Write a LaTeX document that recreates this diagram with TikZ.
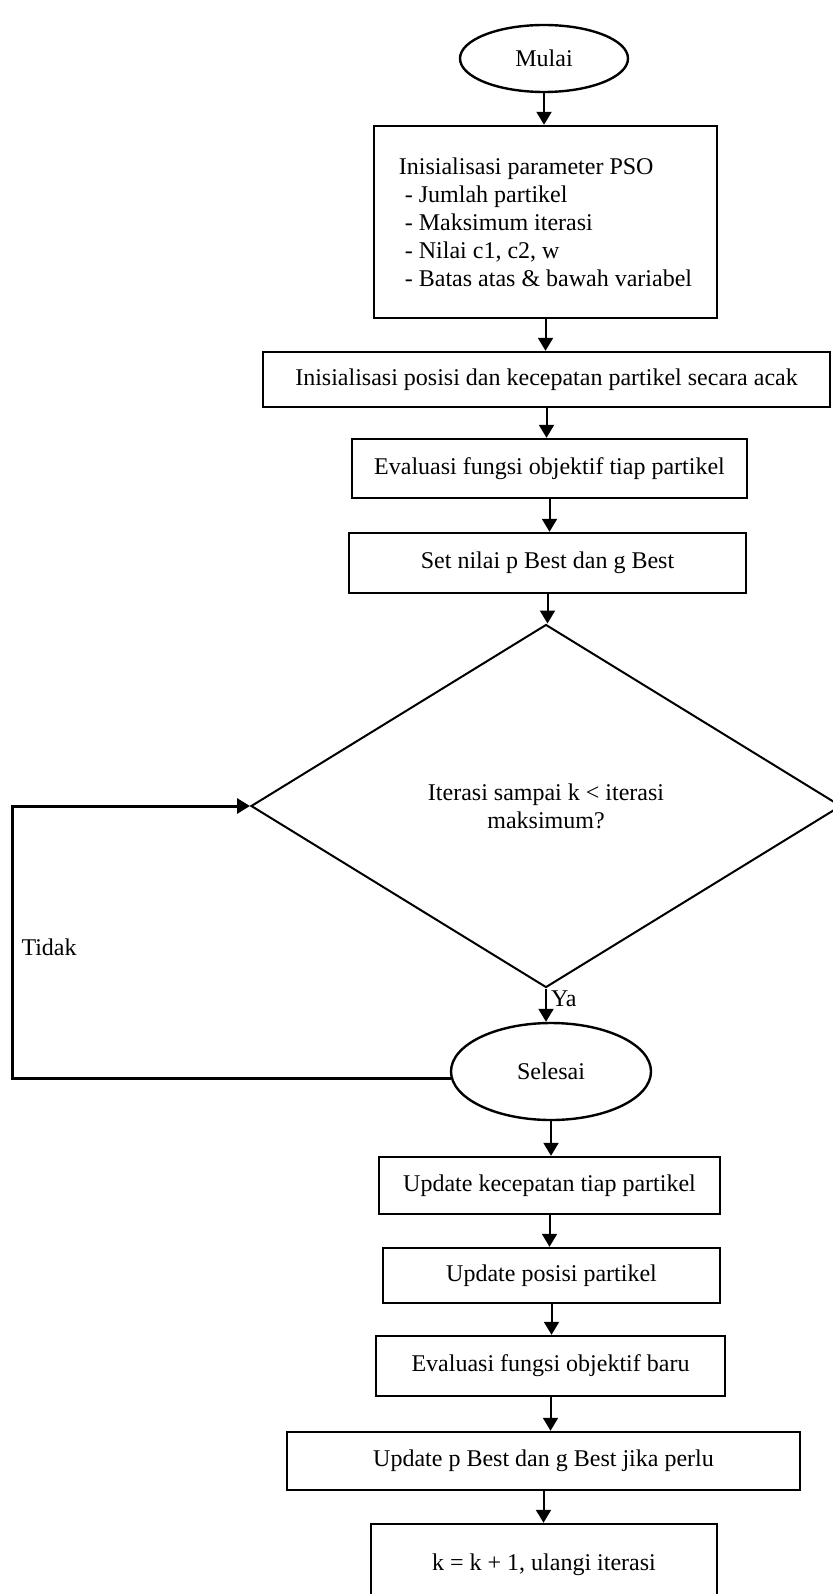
\documentclass[tikz,border=0pt]{standalone}
\usepackage{fontspec}
\setmainfont{Liberation Serif}
\usetikzlibrary{arrows.meta,shapes.geometric,positioning}

\begin{document}
\begin{tikzpicture}[x=0.5pt, y=-0.5pt, >={Triangle[length=6.5pt,width=7.5pt]},
    font=\fontsize{12}{14}\selectfont,
    kotak/.style={draw, rectangle, line width=1.2pt, inner sep=0pt, align=center},
    terminal/.style={draw, ellipse, line width=1.2pt, inner sep=0pt},
    keputusan/.style={draw, diamond, line width=1pt, inner sep=0pt, align=center},
    alur/.style={->, line width=1pt},
    balik/.style={->, line width=1.5pt}]
\useasboundingbox (0,0) rectangle (833,1594);

                \node[terminal, minimum width=84pt, minimum height=33.5pt] (mulai) at (544,58.5) {Mulai};
                \node[kotak, minimum width=171.5pt, minimum height=96pt, align=left] (param) at (545.5,222)
                      {Inisialisasi parameter PSO\\~- Jumlah partikel\\~- Maksimum iterasi\\~- Nilai c1, c2, w\\~- Batas atas \& bawah variabel};
                \node[kotak, minimum width=283.5pt, minimum height=27.5pt] (acak) at (546.5,379.5)
                      {Inisialisasi posisi dan kecepatan partikel secara acak};
                \node[kotak, minimum width=197.5pt, minimum height=29.5pt] (eval) at (549.5,468.5)
                      {Evaluasi fungsi objektif tiap partikel};
                \node[kotak, minimum width=198.5pt, minimum height=30pt] (setbest) at (547.5,563)
                      {Set nilai p Best dan g Best};
                \node[keputusan, minimum width=295pt, minimum height=181.5pt] (cek) at (546,806)
                      {Iterasi sampai k < iterasi\\maksimum?};
                \node[terminal, minimum width=100pt, minimum height=48.5pt] (selesai) at (551,1071.5) {Selesai};
                \node[kotak, minimum width=170.5pt, minimum height=28.5pt] (updv) at (549.5,1185.5)
                      {Update kecepatan tiap partikel};
                \node[kotak, minimum width=168.5pt, minimum height=27.5pt] (updx) at (551.5,1275.5)
                      {Update posisi partikel};
                \node[kotak, minimum width=174.5pt, minimum height=30pt] (evalbaru) at (550.5,1366)
                      {Evaluasi fungsi objektif baru};
                \node[kotak, minimum width=256.5pt, minimum height=29pt] (updbest) at (543.5,1461)
                      {Update p Best dan g Best jika perlu};
                \node[kotak, minimum width=173pt, minimum height=41pt] (ulang) at (544,1565)
                      {k = k + 1, ulangi iterasi};
                \coordinate (kiri) at (12,947);

                \draw[alur] (mulai.south) -- (mulai.south |- param.north);
                \draw[alur] (param.south) -- (param.south |- acak.north);
                \draw[alur] (acak.south) -- (acak.south |- eval.north);
                \draw[alur] (eval.south) -- (eval.south |- setbest.north);
                \draw[alur] (setbest.south) -- (setbest.south |- cek.north);
                \draw[alur] (cek.south) -- node[right, pos=0.3, inner sep=2pt] (ya) {Ya} (cek.south |- selesai.north);
                \draw[balik] (selesai.184) -| (kiri) node[right, inner sep=4pt] (tidak) {Tidak} |- (cek.west);
                \draw[alur] (selesai.south) -- (selesai.south |- updv.north);
                \draw[alur] (updv.south) -- (updv.south |- updx.north);
                \draw[alur] (updx.south) -- (updx.south |- evalbaru.north);
                \draw[alur] (evalbaru.south) -- (evalbaru.south |- updbest.north);
                \draw[alur] (updbest.south) -- (updbest.south |- ulang.north);
            \end{tikzpicture}
\end{document}
